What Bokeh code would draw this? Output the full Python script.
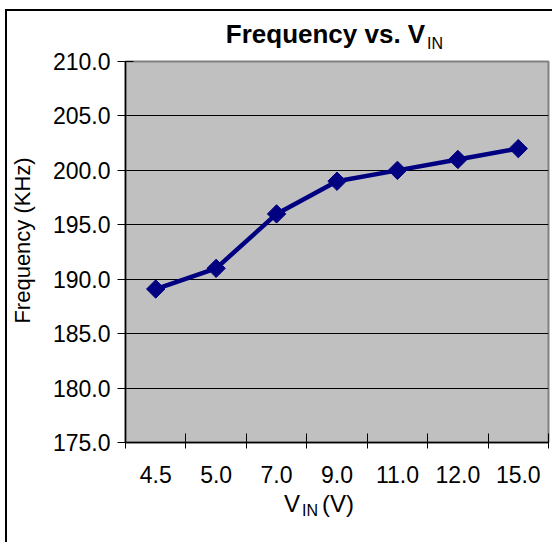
import math
from bokeh.plotting import figure
from bokeh.models import FixedTicker, NumeralTickFormatter, LinearAxis, Range1d
from bokeh.embed import file_html
from bokeh.resources import INLINE

# ---- data ----
vin_labels = ["4.5", "5.0", "7.0", "9.0", "11.0", "12.0", "15.0"]
freq_khz = [189.1, 191.0, 196.0, 199.0, 200.0, 201.0, 202.0]
y_ticks = [175, 180, 185, 190, 195, 200, 205, 210]

FONT = "Liberation Sans"
W, H = 552, 542
n = len(vin_labels)
FL, FT, FR, FB = 125, 61, 4, 100   # frame margins (left, top, right, bottom)

p = figure(width=W, height=H, output_backend="svg", toolbar_location=None,
           x_range=Range1d(0, n), y_range=Range1d(y_ticks[0], y_ticks[-1]),
           min_border_left=FL, min_border_right=FR, min_border_top=FT,
           min_border_bottom=FB)

p.background_fill_color = "#C0C0C0"
p.border_fill_color = None
p.outline_line_color = "#808080"
p.outline_line_width = 2
# outer chart border (left and top edges visible in the reference)
p.styles = {
    "background-color": "white",
    "background-image": "linear-gradient(#000,#000), linear-gradient(#000,#000)",
    "background-size": "2px 100%, 100% 2px",
    "background-position": "5px 9px, 5px 9px",
    "background-repeat": "no-repeat",
}

# grid
p.xgrid.grid_line_color = None
p.ygrid.ticker = FixedTicker(ticks=y_ticks[1:-1])
p.ygrid.grid_line_color = "black"
p.ygrid.grid_line_width = 1

# y axis
p.yaxis.ticker = FixedTicker(ticks=y_ticks)
p.yaxis.formatter = NumeralTickFormatter(format="0.0")
p.yaxis.major_tick_in = 8
p.yaxis.major_tick_out = 8
p.yaxis.minor_tick_line_color = None
p.yaxis.axis_line_color = "black"
p.yaxis.axis_line_width = 1.5
p.yaxis.major_label_text_font = FONT
p.yaxis.major_label_text_font_size = "23px"
p.yaxis.major_label_text_color = "black"
p.yaxis.major_label_standoff = 7

# x axis: labels at category centres, ticks at boundaries
centers = [i + 0.5 for i in range(n)]
p.xaxis.ticker = FixedTicker(ticks=centers, minor_ticks=list(range(n + 1)))
p.xaxis.major_label_overrides = {c: lab for c, lab in zip(centers, vin_labels)}
p.xaxis.major_tick_line_color = None
p.xaxis.major_tick_out = 6
p.xaxis.minor_tick_line_color = "black"
p.xaxis.minor_tick_in = 9
p.xaxis.minor_tick_out = 6
p.xaxis.axis_line_color = "black"
p.xaxis.axis_line_width = 1.5
p.xaxis.major_label_text_font = FONT
p.xaxis.major_label_text_font_size = "23px"
p.xaxis.major_label_text_color = "black"
p.xaxis.major_label_standoff = 17

# series
p.line(centers, freq_khz, line_color="#000080", line_width=4.5)
p.scatter(centers, freq_khz, marker="square", angle=math.pi / 4, size=13,
          fill_color="#000080", line_color="#000080")


def text_axis(side, pos, text, size, standoff, style="normal", orient="horizontal"):
    """An axis with no line/ticks used only to carry one piece of text."""
    ax = LinearAxis(ticker=FixedTicker(ticks=[pos], minor_ticks=[]),
                    major_label_overrides={pos: text},
                    axis_line_color=None, major_tick_line_color=None,
                    minor_tick_line_color=None, major_tick_in=0, major_tick_out=0,
                    minor_tick_in=0, minor_tick_out=0,
                    major_label_standoff=standoff,
                    major_label_orientation=orient,
                    major_label_text_font=FONT,
                    major_label_text_font_size="%dpx" % size,
                    major_label_text_font_style=style,
                    major_label_text_color="black")
    p.add_layout(ax, side)
    return ax


# title "Frequency vs. V" with subscript "IN" (nearest frame first)
text_axis("above", 5.122, "IN", 16, 10)
text_axis("above", 3.31, "Frequency vs. V", 26, -17, style="bold")

# x-axis title "V" + subscript "IN" + "(V)"
ax_v = LinearAxis(ticker=FixedTicker(ticks=[2.755, 3.517], minor_ticks=[]),
                  major_label_overrides={2.755: "V", 3.517: "(V)"},
                  axis_line_color=None, major_tick_line_color=None,
                  minor_tick_line_color=None, major_tick_in=0, major_tick_out=0,
                  major_label_standoff=4, major_label_text_font=FONT,
                  major_label_text_font_size="24px", major_label_text_color="black")
p.add_layout(ax_v, "below")
text_axis("below", 3.053, "IN", 16, -18)

# y-axis title
text_axis("left", 193.56, "Frequency (KHz)", 22, 14, orient="vertical")

open("out.html", "w").write(file_html(p, INLINE))
